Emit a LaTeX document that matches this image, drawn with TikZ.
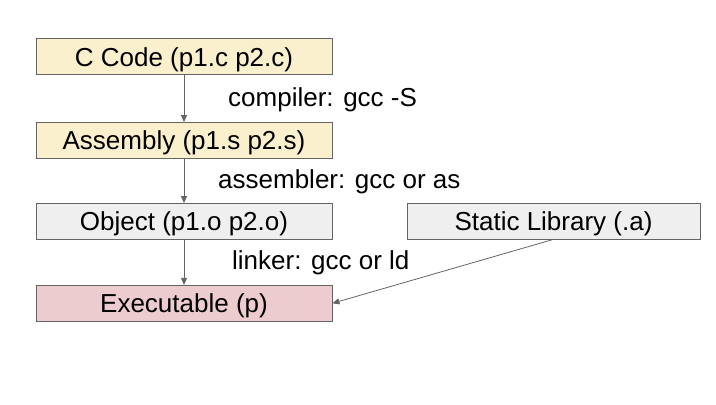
\documentclass[tikz,border=0pt]{standalone}
\usepackage{fontspec}
\setmainfont{Liberation Sans}
\usetikzlibrary{arrows.meta}
\definecolor{yel}{RGB}{250,240,205}
\definecolor{gry}{RGB}{239,239,240}
\definecolor{pnk}{RGB}{236,204,207}
\definecolor{edge}{RGB}{100,100,100}
\begin{document}
\begin{tikzpicture}[x=1bp,y=-1bp,
  box/.style={draw=edge,line width=0.8bp,minimum width=296bp,minimum height=36bp,inner sep=0pt,text height=18.6bp,text depth=0bp,font=\fontsize{26bp}{30bp}\selectfont},
  lbl/.style={anchor=west,inner sep=0pt,font=\fontsize{26bp}{30bp}\selectfont},
  conn/.style={draw=edge,line width=0.8bp,-{Triangle[length=7bp,width=6bp]}}]
\useasboundingbox (0,0) rectangle (716,404);
\node[box,fill=yel] (c) at (184,56.7) {C Code (p1.c p2.c)};
\node[box,fill=yel] (s) at (184,140.5) {Assembly (p1.s p2.s)};
\node[box,fill=gry] (o) at (184,221.5) {Object (p1.o p2.o)};
\node[box,fill=pnk] (e) at (184,303.3) {Executable (p)};
\node[box,fill=gry,minimum width=293bp] (l) at (553.5,221.5) {Static Library (.a)};
\node[lbl] (t1) at (228,100) {compiler: gcc -S};
\node[lbl] (t2) at (218,182) {assembler: gcc or as};
\node[lbl] (t3) at (232,263) {linker: gcc or ld};
\draw[conn] (c.south) -- (s.north);
\draw[conn] (s.south) -- (o.north);
\draw[conn] (o.south) -- (e.north);
\coordinate (ls) at (553,239.5);
\draw[conn] (ls) -- (e.east);
\end{tikzpicture}
\end{document}
